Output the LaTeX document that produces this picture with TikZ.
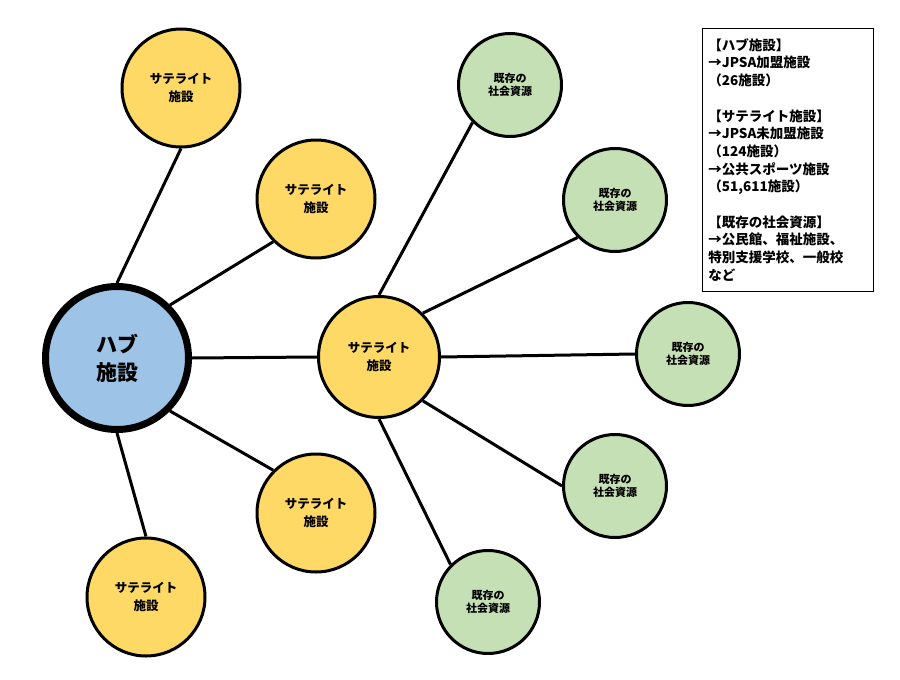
\documentclass[tikz,border=0pt]{standalone}
\usepackage{fontspec}
\setmainfont{Noto Sans CJK JP}
\usepackage{tikz}
\tikzset{every picture/.style={line width=3pt},
  hub/.style={circle,draw,line width=7pt,fill=hubblue,minimum size=143pt,inner sep=0pt,align=center,
    font=\bfseries\fontsize{21}{28}\selectfont},
  sat/.style={circle,draw,fill=satyellow,minimum size=118pt,inner sep=0pt,align=center,
    font=\bfseries\fontsize{12.5}{18}\selectfont},
  res/.style={circle,draw,fill=resgreen,minimum size=103pt,inner sep=0pt,align=center,
    font=\bfseries\fontsize{11}{13.5}\selectfont}}
\definecolor{hubblue}{HTML}{9DC3E6}
\definecolor{satyellow}{HTML}{FFD966}
\definecolor{resgreen}{HTML}{C5E0B4}

\begin{document}
\begin{tikzpicture}[x=1pt,y=-1pt]
  \useasboundingbox (0,0) rectangle (900,680);
  % hub and its satellites
  \node[hub] (H) at (117,358) {ハブ\\施設};
  \node[sat] (S1) at (181,88)  {サテライト\\施設};
  \node[sat] (S2) at (316,199) {サテライト\\施設};
  \node[sat, minimum size=121pt] (S) at (379,357) {サテライト\\施設};
  \node[sat] (S3) at (316,513) {サテライト\\施設};
  \node[sat] (S4) at (146,597) {サテライト\\施設};
  % existing resources
  \node[res] (R1) at (510,85)  {既存の\\社会資源};
  \node[res] (R2) at (615,200) {既存の\\社会資源};
  \node[res] (R3) at (688,354) {既存の\\社会資源};
  \node[res] (R4) at (615,486) {既存の\\社会資源};
  \node[res] (R5) at (488,602) {既存の\\社会資源};
  \draw (H.north)      -- (S1.south);
  \draw (H.north east) -- (S2.south west);
  \draw (H.east)       -- (S.west);
  \draw (H.south east) -- (S3.north west);
  \draw (H.south)      -- (S4.north);
  \draw (S.north)      -- (R1.south west);
  \draw (S.north east) -- (R2.south west);
  \draw (S.east)       -- (R3.west);
  \draw (S.south east) -- (R4.west);
  \draw (S.south)      -- (R5.north west);
  % legend
  \node[draw,line width=0.8pt,anchor=north west,text width=159pt,inner xsep=6pt,inner ysep=10pt,align=left,
    font=\bfseries\fontsize{13.5}{17.7}\selectfont] (L) at (702,28)
    {【ハブ施設】\\→JPSA加盟施設\\（26施設）\\[17.7pt]
     【サテライト施設】\\→JPSA未加盟施設\\（124施設）\\→公共スポーツ施設\\（51,611施設）\\[17.7pt]
     【既存の社会資源】\\→公民館、福祉施設、\\特別支援学校、一般校\\など};
\end{tikzpicture}
\end{document}
